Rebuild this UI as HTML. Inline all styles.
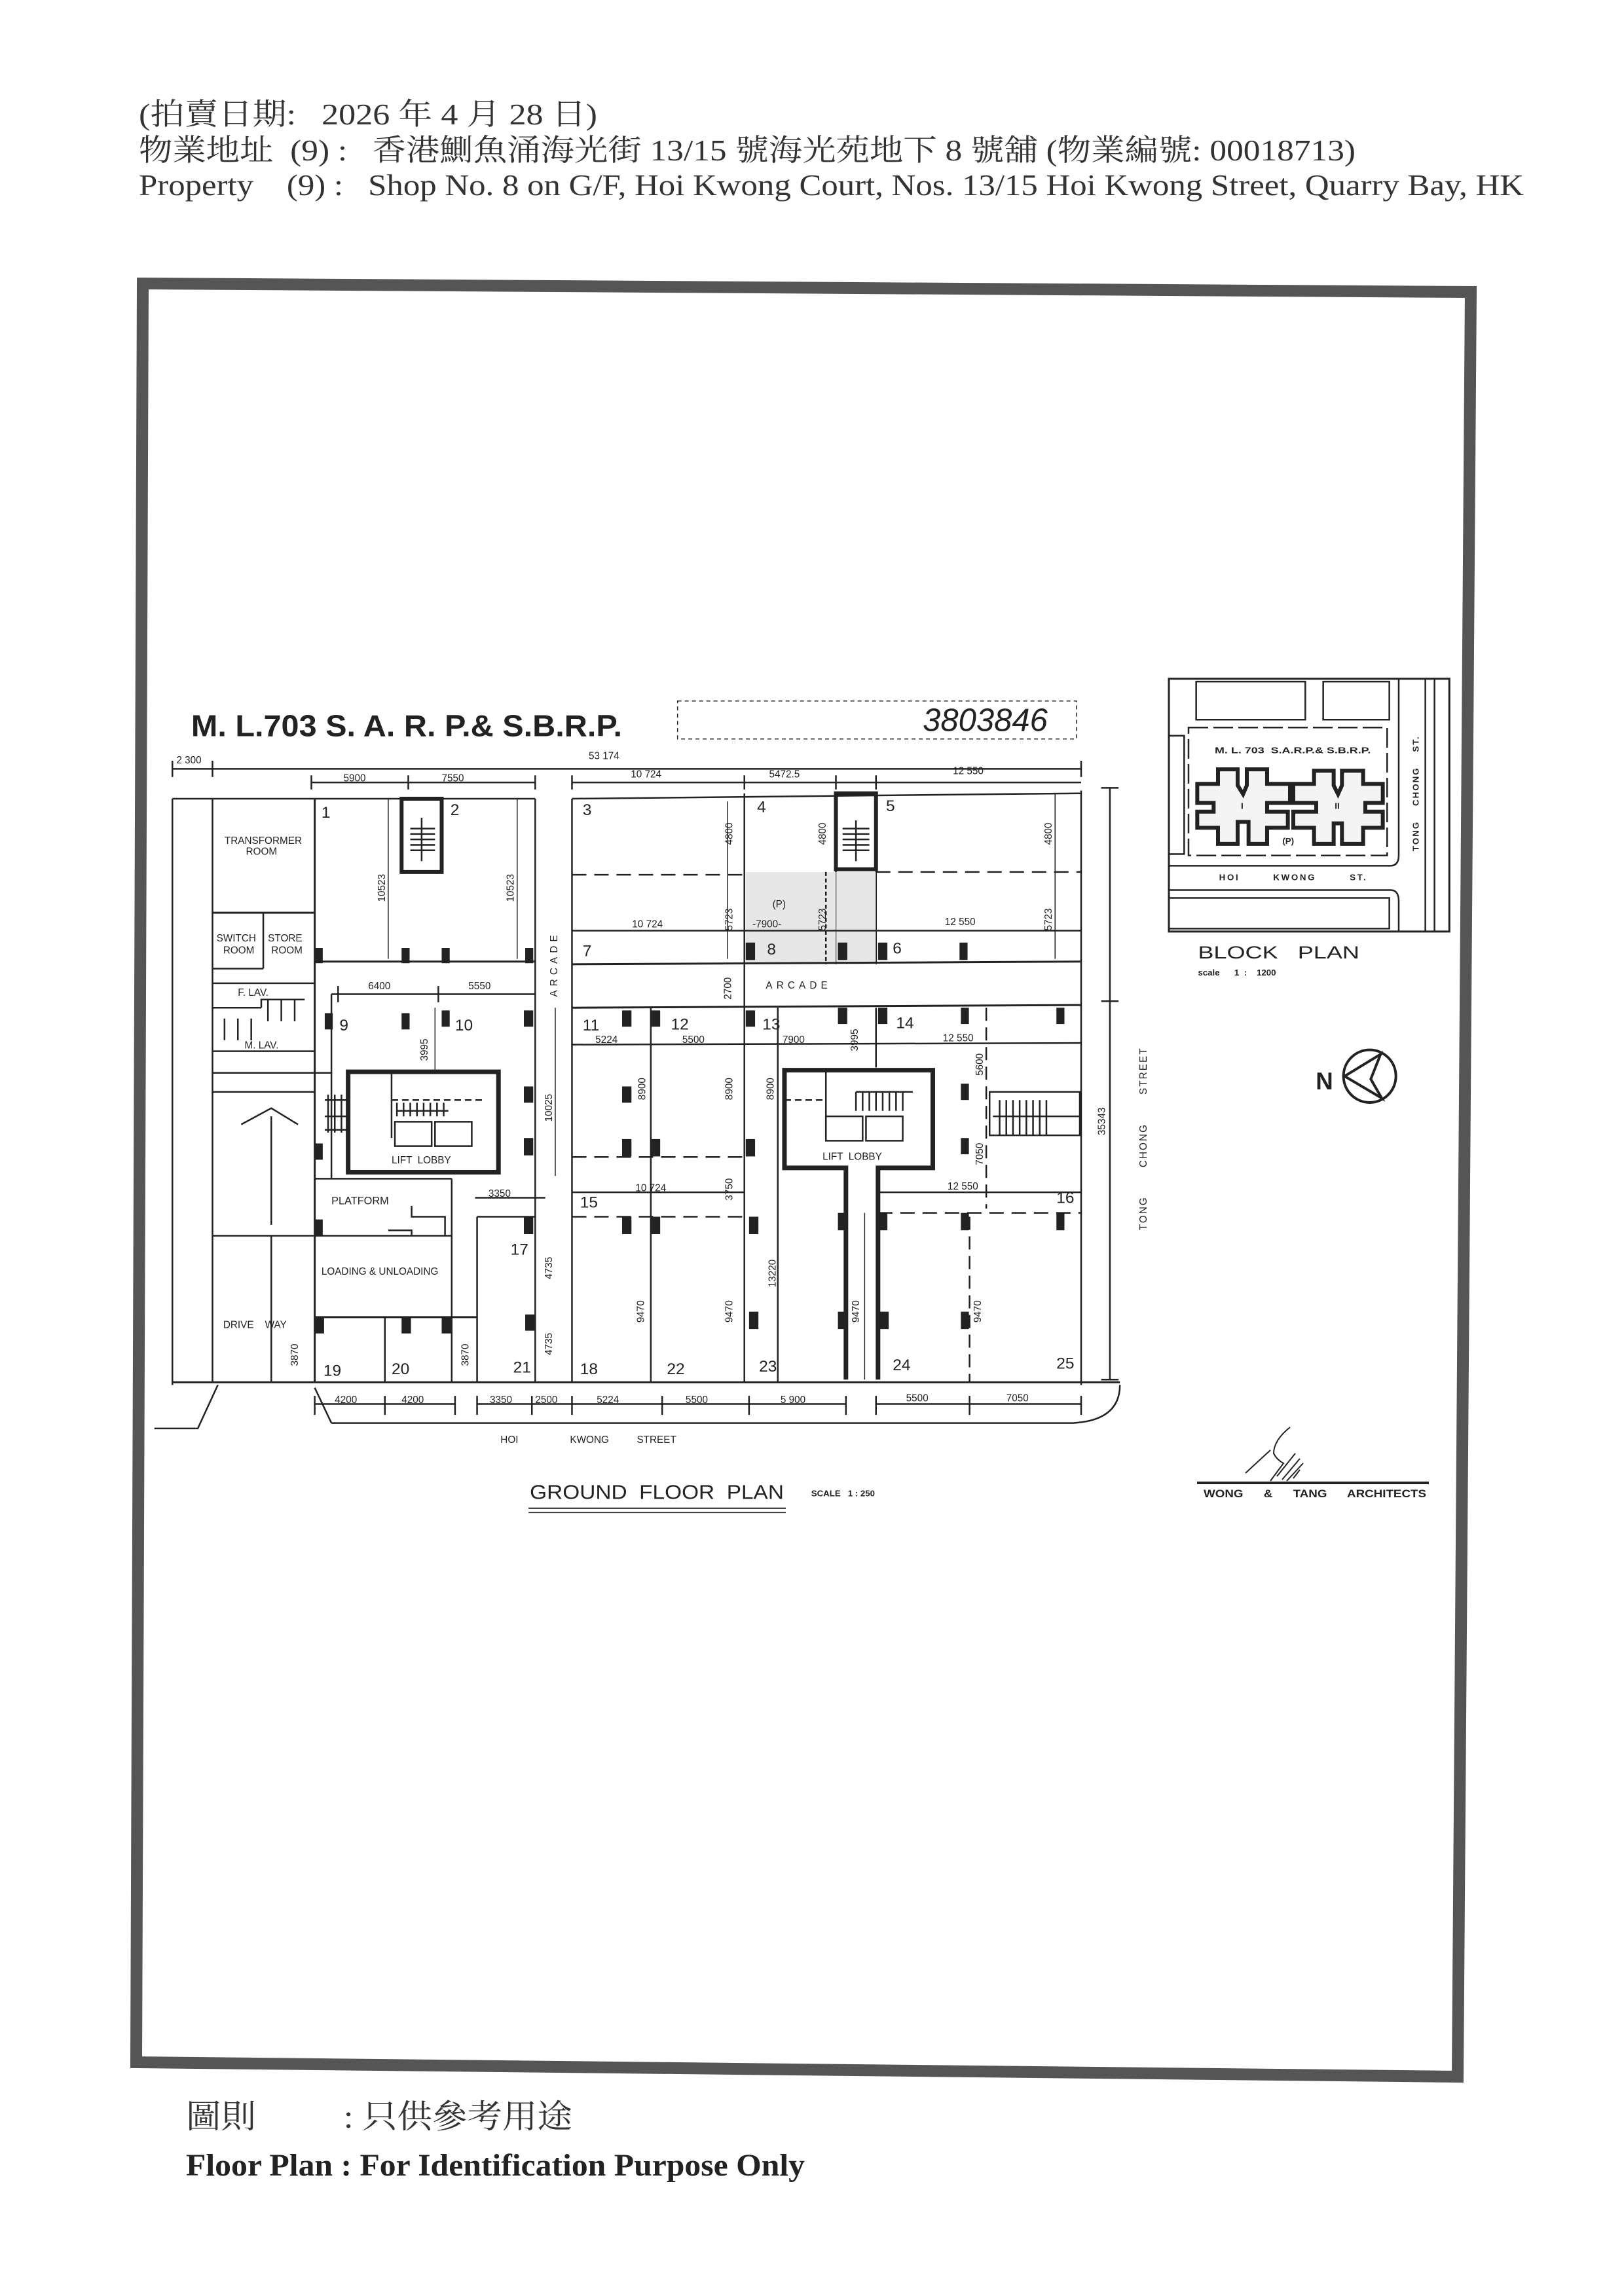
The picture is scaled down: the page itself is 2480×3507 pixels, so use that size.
<!DOCTYPE html>
<html><head><meta charset="utf-8">
<style>
html,body{margin:0;padding:0;background:#fff;}
svg{display:block}
text{font-family:"Liberation Sans",sans-serif;fill:#222;white-space:pre}
.s{font-family:"Liberation Serif","Noto Serif CJK SC","Noto Sans CJK TC",serif;fill:#333}
.p line,.p rect,.p polyline,.p path,.p ellipse{vector-effect:non-scaling-stroke}
</style></head>
<body>
<svg width="2480" height="3507" viewBox="0 0 2480 3507" xmlns="http://www.w3.org/2000/svg" xml:space="preserve">
<rect width="2480" height="3507" fill="#fff"/>

<!-- header -->
<text class="s" x="212" y="190" font-size="46" textLength="700" lengthAdjust="spacingAndGlyphs">(拍賣日期:   2026 年 4 月 28 日)</text>
<text class="s" x="212" y="245" font-size="46" textLength="1858" lengthAdjust="spacingAndGlyphs">物業地址  (9) :   香港鰂魚涌海光街 13/15 號海光苑地下 8 號舖 (物業編號: 00018713)</text>
<text class="s" x="212" y="298" font-size="46" textLength="2115" lengthAdjust="spacingAndGlyphs">Property    (9) :   Shop No. 8 on G/F, Hoi Kwong Court, Nos. 13/15 Hoi Kwong Street, Quarry Bay, HK</text>

<!-- frame -->
<polygon points="218,433 2246,446 2226,3172 208,3150" fill="none" stroke="#555" stroke-width="18"/>

<!-- footer -->
<text class="s" x="284" y="3250" font-size="50" textLength="590" lengthAdjust="spacingAndGlyphs">圖則          : 只供參考用途</text>
<text class="s" x="284" y="3323" font-size="48" font-weight="bold" textLength="945" lengthAdjust="spacingAndGlyphs" style="fill:#222">Floor Plan : For Identification Purpose Only</text>

<!-- plan -->
<g class="p" transform="matrix(1.0204 0 0 0.8292 200 1050)" stroke="#222" stroke-width="2.5" fill="none">
 <text transform="translate(90 90) scale(1 1.23)" font-size="45" font-weight="bold" stroke="none" textLength="645" lengthAdjust="spacingAndGlyphs">M. L.703 S. A. R. P.&amp; S.B.R.P.</text>
 <rect x="818" y="25" width="597" height="70" stroke-dasharray="6 5" stroke-width="1.5"/>
 <text transform="translate(1185 80) scale(1 1.23)" font-size="48" stroke="none" font-family="Liberation Serif" font-style="italic">3803846</text>
 <line x1="62" y1="150" x2="1422" y2="150"/>
 <line x1="62" y1="135" x2="62" y2="165"/><line x1="122" y1="135" x2="122" y2="165"/><line x1="1422" y1="135" x2="1422" y2="165"/>
 <line x1="270" y1="175" x2="605" y2="175"/><line x1="660" y1="175" x2="1422" y2="175"/>
 <g><line x1="270" y1="162" x2="270" y2="188"/><line x1="415" y1="162" x2="415" y2="188"/><line x1="605" y1="162" x2="605" y2="188"/><line x1="660" y1="162" x2="660" y2="188"/><line x1="918" y1="162" x2="918" y2="188"/><line x1="1055" y1="162" x2="1055" y2="188"/><line x1="1115" y1="162" x2="1115" y2="188"/></g>
 <g stroke="none" font-size="15">
  <text transform="translate(68 140) scale(1 1.23)">2 300</text>
  <text transform="translate(685 132) scale(1 1.23)">53 174</text>
  <text transform="translate(318 173) scale(1 1.23)">5900</text>
  <text transform="translate(465 173) scale(1 1.23)">7550</text>
  <text transform="translate(748 166) scale(1 1.23)">10 724</text>
  <text transform="translate(955 166) scale(1 1.23)">5472.5</text>
  <text transform="translate(1230 160) scale(1 1.23)">12 550</text>
 </g>
 <line x1="62" y1="205" x2="62" y2="1285"/>
 <line x1="62" y1="205" x2="605" y2="205"/>
 <line x1="660" y1="205" x2="1422" y2="195"/>
 <line x1="1422" y1="190" x2="1422" y2="1285"/>
 <line x1="1465" y1="185" x2="1465" y2="1275"/><line x1="1452" y1="185" x2="1478" y2="185"/><line x1="1452" y1="578" x2="1478" y2="578"/><line x1="1452" y1="1275" x2="1478" y2="1275"/>
 <line x1="62" y1="1280" x2="1480" y2="1280" stroke-width="3"/>
 <path d="M300 1355 L1410 1355 Q1480 1350 1480 1285"/>
 <path d="M35 1365 L100 1365 L130 1285"/>
 <line x1="275" y1="1290" x2="300" y2="1355"/>
 <line x1="122" y1="205" x2="122" y2="1280"/>
 <line x1="275" y1="205" x2="275" y2="1280" stroke-width="3"/>
 <line x1="122" y1="415" x2="275" y2="415" stroke-width="3"/>
 <line x1="198" y1="415" x2="198" y2="518"/>
 <line x1="122" y1="518" x2="198" y2="518"/>
 <line x1="122" y1="545" x2="275" y2="545"/>
 <line x1="122" y1="590" x2="195" y2="590"/>
 <line x1="122" y1="670" x2="275" y2="670"/>
 <line x1="122" y1="710" x2="300" y2="710"/>
 <line x1="122" y1="745" x2="275" y2="745"/>
 <path d="M195 590 L195 575 L260 575 M205 575 V615 M225 575 V615 M245 575 V615 M140 610 V650 M160 610 V650 M180 610 V650"/>
 <line x1="122" y1="1010" x2="480" y2="1010"/>
 <line x1="210" y1="1010" x2="210" y2="1280"/>
 <line x1="210" y1="790" x2="210" y2="990"/>
 <path d="M165 805 L210 775 L250 805"/>
 <line x1="480" y1="905" x2="480" y2="1280"/>
 <line x1="275" y1="905" x2="480" y2="905"/>
 <line x1="275" y1="1160" x2="518" y2="1160" stroke-width="3"/>
 <line x1="380" y1="1160" x2="380" y2="1280"/>
 <line x1="518" y1="975" x2="518" y2="1280"/>
 <line x1="518" y1="975" x2="605" y2="975"/>
 <path d="M420 955 V975 H470 V1010 M385 1000 H420 V1010"/>
 <line x1="275" y1="505" x2="605" y2="505" stroke-width="3"/>
 <line x1="605" y1="205" x2="605" y2="1280"/>
 <line x1="660" y1="205" x2="660" y2="1280"/>
 <rect x="405" y="205" width="60" height="135" stroke-width="6"/>
 <path d="M418 260 H455 M418 270 H455 M418 280 H455 M418 290 H455 M418 300 H455 M435 240 V320"/>
 <line x1="385" y1="205" x2="385" y2="500" stroke-width="1.5"/><line x1="578" y1="205" x2="578" y2="500" stroke-width="1.5"/>
 <line x1="300" y1="565" x2="605" y2="565"/>
 <line x1="300" y1="565" x2="300" y2="905"/>
 <line x1="310" y1="550" x2="310" y2="580"/><line x1="460" y1="550" x2="460" y2="580"/>
 <line x1="455" y1="590" x2="455" y2="705" stroke-width="1.5"/>
 <rect x="325" y="708" width="225" height="185" stroke-width="7"/>
 <line x1="390" y1="708" x2="390" y2="830"/><line x1="390" y1="760" x2="530" y2="760" stroke-dasharray="10 6"/>
 <rect x="395" y="800" width="55" height="45"/><rect x="455" y="800" width="55" height="45"/>
 <path d="M398 765 V790 M408 765 V790 M418 765 V790 M428 765 V790 M438 765 V790 M448 765 V790 M458 765 V790 M468 765 V790 M398 780 H475"/>
 <line x1="635" y1="590" x2="635" y2="900" stroke-width="1.5"/>
 <line x1="515" y1="940" x2="620" y2="940"/>
 <path d="M295 750 V820 M305 750 V820 M315 750 V820 M290 760 H325 M290 790 H325 M290 815 H325"/>
 <line x1="918" y1="195" x2="918" y2="1280"/>
 <line x1="1055" y1="195" x2="1055" y2="510"/>
 <rect x="1055" y="195" width="60" height="140" stroke-width="6"/>
 <path d="M1065 260 H1105 M1065 270 H1105 M1065 280 H1105 M1065 290 H1105 M1065 300 H1105 M1085 245 V320"/>
 <line x1="1115" y1="195" x2="1115" y2="510"/>
 <line x1="660" y1="345" x2="918" y2="345" stroke-dasharray="22 12"/>
 <line x1="1115" y1="340" x2="1422" y2="340" stroke-dasharray="22 12"/>
 <rect x="920" y="340" width="195" height="170" fill="#ddd" stroke="none" opacity="0.7"/>
 <line x1="1040" y1="340" x2="1040" y2="510" stroke-dasharray="6 4"/>
 <line x1="660" y1="448" x2="1422" y2="448"/>
 <line x1="660" y1="510" x2="1422" y2="505" stroke-width="3"/>
 <line x1="660" y1="590" x2="1422" y2="585" stroke-width="3"/>
 <line x1="893" y1="210" x2="893" y2="500" stroke-width="1.5"/><line x1="1383" y1="195" x2="1383" y2="500" stroke-width="1.5"/>
 <line x1="660" y1="658" x2="1422" y2="655"/>
 <line x1="778" y1="590" x2="778" y2="1280"/>
 <line x1="968" y1="590" x2="968" y2="1280"/>
 <line x1="1115" y1="590" x2="1115" y2="700"/>
 <line x1="1280" y1="590" x2="1280" y2="960" stroke-dasharray="20 10"/>
 <line x1="660" y1="865" x2="918" y2="865" stroke-dasharray="22 12"/>
 <path d="M1070 1275 V885 H978 V705 H1200 V885 H1118 V1275" stroke-width="7"/>
 <line x1="978" y1="760" x2="1040" y2="760" stroke-dasharray="10 6"/>
 <line x1="1040" y1="705" x2="1040" y2="830"/>
 <rect x="1040" y="790" width="55" height="45"/><rect x="1100" y="790" width="55" height="45"/>
 <path d="M1085 745 V780 M1095 745 V780 M1105 745 V780 M1115 745 V780 M1125 745 V780 M1135 745 V780 M1145 745 V780 M1155 745 V780 M1085 745 H1170"/>
 <line x1="660" y1="930" x2="918" y2="930"/>
 <line x1="1118" y1="930" x2="1422" y2="930"/>
 <line x1="660" y1="975" x2="918" y2="975" stroke-dasharray="22 12"/>
 <line x1="1118" y1="968" x2="1422" y2="968" stroke-dasharray="22 12"/>
 <line x1="1255" y1="975" x2="1255" y2="1280" stroke-dasharray="20 10"/>
 <line x1="1098" y1="968" x2="1098" y2="1275" stroke-width="1.5"/>
 <rect x="1285" y="745" width="135" height="80"/>
 <path d="M1290 790 H1420 M1300 760 V825 M1310 760 V825 M1320 760 V825 M1330 760 V825 M1340 760 V825 M1350 760 V825 M1360 760 V825 M1370 760 V825"/>
 <line x1="275" y1="1320" x2="485" y2="1320"/><line x1="518" y1="1320" x2="1070" y2="1320"/><line x1="1115" y1="1320" x2="1422" y2="1320"/>
 <g><line x1="275" y1="1305" x2="275" y2="1340"/><line x1="380" y1="1305" x2="380" y2="1340"/><line x1="485" y1="1305" x2="485" y2="1340"/><line x1="518" y1="1305" x2="518" y2="1340"/><line x1="600" y1="1305" x2="600" y2="1340"/><line x1="660" y1="1305" x2="660" y2="1340"/><line x1="795" y1="1305" x2="795" y2="1340"/><line x1="925" y1="1305" x2="925" y2="1340"/><line x1="1070" y1="1305" x2="1070" y2="1340"/><line x1="1115" y1="1305" x2="1115" y2="1340"/><line x1="1255" y1="1305" x2="1255" y2="1340"/><line x1="1422" y1="1305" x2="1422" y2="1340"/></g>
 <g fill="#222" stroke="none">
  <rect x="275" y="480" width="12" height="28"/><rect x="405" y="480" width="12" height="28"/><rect x="465" y="480" width="12" height="28"/><rect x="590" y="480" width="12" height="28"/>
  <rect x="920" y="470" width="14" height="32"/><rect x="1058" y="470" width="14" height="32"/><rect x="1118" y="470" width="14" height="32"/><rect x="1240" y="470" width="12" height="32"/>
  <rect x="290" y="600" width="12" height="30"/><rect x="405" y="600" width="12" height="30"/><rect x="465" y="595" width="12" height="30"/><rect x="588" y="595" width="14" height="30"/>
  <rect x="735" y="595" width="14" height="30"/><rect x="778" y="595" width="14" height="30"/><rect x="920" y="595" width="14" height="30"/><rect x="1058" y="590" width="14" height="30"/><rect x="1118" y="590" width="14" height="30"/><rect x="1242" y="590" width="12" height="30"/><rect x="1385" y="590" width="12" height="30"/>
  <rect x="588" y="735" width="14" height="30"/><rect x="735" y="735" width="14" height="30"/><rect x="1242" y="730" width="12" height="30"/>
  <rect x="588" y="830" width="14" height="32"/><rect x="735" y="832" width="14" height="32"/><rect x="778" y="832" width="14" height="32"/><rect x="920" y="832" width="14" height="32"/><rect x="1242" y="830" width="12" height="30"/>
  <rect x="588" y="975" width="14" height="32"/><rect x="735" y="975" width="14" height="32"/><rect x="778" y="975" width="14" height="32"/><rect x="925" y="975" width="14" height="32"/><rect x="1058" y="968" width="14" height="32"/><rect x="1118" y="968" width="14" height="32"/><rect x="1242" y="968" width="12" height="32"/><rect x="1385" y="968" width="12" height="32"/>
  <rect x="275" y="1160" width="14" height="30"/><rect x="405" y="1160" width="14" height="30"/><rect x="465" y="1160" width="14" height="30"/><rect x="590" y="1155" width="14" height="30"/><rect x="925" y="1150" width="14" height="32"/><rect x="1058" y="1150" width="14" height="32"/><rect x="1120" y="1150" width="14" height="32"/><rect x="1242" y="1150" width="12" height="32"/>
  <rect x="275" y="840" width="12" height="30"/><rect x="275" y="980" width="12" height="30"/>
 </g>
 <g stroke="none" font-size="15">
  <text transform="translate(140 288) scale(1 1.23)">TRANSFORMER</text>
  <text transform="translate(172 308) scale(1 1.23)">ROOM</text>
  <text transform="translate(128 468) scale(1 1.23)">SWITCH</text>
  <text transform="translate(138 490) scale(1 1.23)">ROOM</text>
  <text transform="translate(205 468) scale(1 1.23)">STORE</text>
  <text transform="translate(210 490) scale(1 1.23)">ROOM</text>
  <text transform="translate(160 568) scale(1 1.23)">F. LAV.</text>
  <text transform="translate(170 665) scale(1 1.23)">M. LAV.</text>
  <text transform="translate(300 952) scale(1 1.23)" font-size="16">PLATFORM</text>
  <text transform="translate(285 1082) scale(1 1.23)">LOADING &amp; UNLOADING</text>
  <text transform="translate(138 1180) scale(1 1.23)">DRIVE    WAY</text>
  <text transform="translate(390 877) scale(1 1.23)">LIFT  LOBBY</text>
  <text transform="translate(1035 870) scale(1 1.23)">LIFT  LOBBY</text>
  <text transform="translate(950 555) scale(1 1.23)" letter-spacing="6">ARCADE</text>
  <text transform="translate(638 570) scale(1 1.23) rotate(-90)" letter-spacing="6">ARCADE</text>
  <text transform="translate(960 405) scale(1 1.23)">(P)</text>
  <text transform="translate(930 442) scale(1 1.23)">-7900-</text>
  <text transform="translate(750 442) scale(1 1.23)">10 724</text>
  <text transform="translate(1218 438) scale(1 1.23)">12 550</text>
  <text transform="translate(355 556) scale(1 1.23)">6400</text>
  <text transform="translate(505 556) scale(1 1.23)">5550</text>
  <text transform="translate(695 655) scale(1 1.23)">5224</text>
  <text transform="translate(825 655) scale(1 1.23)">5500</text>
  <text transform="translate(975 655) scale(1 1.23)">7900</text>
  <text transform="translate(1215 652) scale(1 1.23)">12 550</text>
  <text transform="translate(755 928) scale(1 1.23)">10 724</text>
  <text transform="translate(1222 925) scale(1 1.23)">12 550</text>
  <text transform="translate(535 938) scale(1 1.23)">3350</text>
  <text transform="translate(305 1318) scale(1 1.23)">4200</text>
  <text transform="translate(405 1318) scale(1 1.23)">4200</text>
  <text transform="translate(537 1318) scale(1 1.23)">3350</text>
  <text transform="translate(605 1318) scale(1 1.23)">2500</text>
  <text transform="translate(697 1318) scale(1 1.23)">5224</text>
  <text transform="translate(830 1318) scale(1 1.23)">5500</text>
  <text transform="translate(972 1318) scale(1 1.23)">5 900</text>
  <text transform="translate(1160 1315) scale(1 1.23)">5500</text>
  <text transform="translate(1310 1315) scale(1 1.23)">7050</text>
  <text transform="translate(553 1392) scale(1 1.23)">HOI</text>
  <text transform="translate(657 1392) scale(1 1.23)">KWONG</text>
  <text transform="translate(757 1392) scale(1 1.23)">STREET</text>
  <text transform="translate(1520 1000) scale(1 1.23) rotate(-90)" letter-spacing="2">TONG       CHONG       STREET</text>
  <text transform="translate(380 395) scale(1 1.23) rotate(-90)">10523</text>
  <text transform="translate(573 395) scale(1 1.23) rotate(-90)">10523</text>
  <text transform="translate(630 800) scale(1 1.23) rotate(-90)">10025</text>
  <text transform="translate(444 688) scale(1 1.23) rotate(-90)">3995</text>
  <text transform="translate(1088 670) scale(1 1.23) rotate(-90)">3995</text>
  <text transform="translate(900 290) scale(1 1.23) rotate(-90)">4800</text>
  <text transform="translate(1040 290) scale(1 1.23) rotate(-90)">4800</text>
  <text transform="translate(1378 290) scale(1 1.23) rotate(-90)">4800</text>
  <text transform="translate(900 448) scale(1 1.23) rotate(-90)">5723</text>
  <text transform="translate(1040 448) scale(1 1.23) rotate(-90)">5723</text>
  <text transform="translate(1378 448) scale(1 1.23) rotate(-90)">5723</text>
  <text transform="translate(898 575) scale(1 1.23) rotate(-90)">2700</text>
  <text transform="translate(770 760) scale(1 1.23) rotate(-90)">8900</text>
  <text transform="translate(900 760) scale(1 1.23) rotate(-90)">8900</text>
  <text transform="translate(962 760) scale(1 1.23) rotate(-90)">8900</text>
  <text transform="translate(1275 715) scale(1 1.23) rotate(-90)">5600</text>
  <text transform="translate(1275 880) scale(1 1.23) rotate(-90)">7050</text>
  <text transform="translate(1458 825) scale(1 1.23) rotate(-90)">35343</text>
  <text transform="translate(900 945) scale(1 1.23) rotate(-90)">3750</text>
  <text transform="translate(965 1105) scale(1 1.23) rotate(-90)">13220</text>
  <text transform="translate(630 1090) scale(1 1.23) rotate(-90)">4735</text>
  <text transform="translate(630 1230) scale(1 1.23) rotate(-90)">4735</text>
  <text transform="translate(768 1170) scale(1 1.23) rotate(-90)">9470</text>
  <text transform="translate(900 1170) scale(1 1.23) rotate(-90)">9470</text>
  <text transform="translate(1090 1170) scale(1 1.23) rotate(-90)">9470</text>
  <text transform="translate(1272 1170) scale(1 1.23) rotate(-90)">9470</text>
  <text transform="translate(250 1250) scale(1 1.23) rotate(-90)">3870</text>
  <text transform="translate(505 1250) scale(1 1.23) rotate(-90)">3870</text>
 </g>
 <g stroke="none" font-size="24">
  <text transform="translate(285 240) scale(1 1.23)">1</text>
  <text transform="translate(478 235) scale(1 1.23)">2</text>
  <text transform="translate(676 235) scale(1 1.23)">3</text>
  <text transform="translate(937 230) scale(1 1.23)">4</text>
  <text transform="translate(1130 228) scale(1 1.23)">5</text>
  <text transform="translate(1140 490) scale(1 1.23)">6</text>
  <text transform="translate(676 495) scale(1 1.23)">7</text>
  <text transform="translate(952 492) scale(1 1.23)">8</text>
  <text transform="translate(312 632) scale(1 1.23)">9</text>
  <text transform="translate(485 632) scale(1 1.23)">10</text>
  <text transform="translate(676 632) scale(1 1.23)">11</text>
  <text transform="translate(808 630) scale(1 1.23)">12</text>
  <text transform="translate(945 630) scale(1 1.23)">13</text>
  <text transform="translate(1145 628) scale(1 1.23)">14</text>
  <text transform="translate(672 958) scale(1 1.23)">15</text>
  <text transform="translate(1385 950) scale(1 1.23)">16</text>
  <text transform="translate(568 1045) scale(1 1.23)">17</text>
  <text transform="translate(672 1265) scale(1 1.23)">18</text>
  <text transform="translate(288 1268) scale(1 1.23)">19</text>
  <text transform="translate(390 1265) scale(1 1.23)">20</text>
  <text transform="translate(572 1262) scale(1 1.23)">21</text>
  <text transform="translate(802 1265) scale(1 1.23)">22</text>
  <text transform="translate(940 1260) scale(1 1.23)">23</text>
  <text transform="translate(1140 1258) scale(1 1.23)">24</text>
  <text transform="translate(1385 1255) scale(1 1.23)">25</text>
 </g>
 <text transform="translate(597 1495) scale(1 1.23)" font-size="30" stroke="none" textLength="380" lengthAdjust="spacingAndGlyphs">GROUND  FLOOR  PLAN</text>
 <line x1="595" y1="1512" x2="980" y2="1512" stroke-width="2"/>
 <line x1="595" y1="1520" x2="980" y2="1520" stroke-width="1.5"/>
 <text transform="translate(1018 1490) scale(1 1.23)" font-size="13" font-weight="bold" stroke="none">SCALE   1 : 250</text>
</g>

<!-- block plan -->
<g class="p" transform="matrix(0.3333 0 0 0.4464 1780 1030)" stroke="#222" stroke-width="2.5" fill="none">
 <rect x="15" y="15" width="1285" height="865" stroke-width="3"/>
 <rect x="140" y="25" width="500" height="130"/>
 <rect x="722" y="25" width="303" height="130"/>
 <rect x="15" y="210" width="70" height="405"/>
 <rect x="105" y="182" width="910" height="438" stroke-dasharray="30 8"/>
 <path d="M15 655 H1030 Q1068 655 1068 620 V15"/>
 <path d="M15 738 H1030 Q1068 738 1068 775 V880"/>
 <rect x="15" y="765" width="1010" height="105"/>
 <line x1="1190" y1="15" x2="1190" y2="880"/>
 <line x1="1232" y1="15" x2="1232" y2="880"/>
 <path d="M145 375 H240 V325 H330 V380 L355 410 L372 380 V325 H465 V375 H570 V440 H465 V470 H560 V525 H465 V580 H380 V505 H330 V580 H240 V525 H145 V470 H220 V440 H145 Z" stroke-width="6" fill="#f4f4f4"/>
 <path d="M585 375 H680 V330 H770 V380 L790 410 L808 380 V330 H905 V375 H995 V440 H915 V470 H995 V525 H905 V580 H808 V510 H770 V580 H680 V525 H585 V470 H690 V440 H585 Z" stroke-width="6" fill="#f4f4f4"/>
 <g stroke="none" font-weight="bold">
  <text transform="translate(225 270) scale(1 0.747)" font-size="40" textLength="715" lengthAdjust="spacingAndGlyphs">M. L. 703  S.A.R.P.&amp; S.B.R.P.</text>
  <text transform="translate(345 460) scale(1 0.747)" font-size="40">I</text>
  <text transform="translate(775 460) scale(1 0.747)" font-size="40">II</text>
  <text transform="translate(535 580) scale(1 0.747)" font-size="40">(P)</text>
  <text transform="translate(245 705) scale(1 0.747)" font-size="40" letter-spacing="8">HOI        KWONG        ST.</text>
  <text transform="translate(1160 605) scale(1 0.747) rotate(-90)" font-size="40" letter-spacing="6">TONG    CHONG    ST.</text>
  <text transform="translate(148 972) scale(1 0.747)" font-size="80" textLength="740" lengthAdjust="spacingAndGlyphs" font-weight="normal">BLOCK   PLAN</text>
  <text transform="translate(148 1030) scale(1 0.747)" font-size="40">scale      1  :    1200</text>
  <text transform="translate(688 1420) scale(1 0.747)" font-size="110">N</text>
 </g>
 <ellipse cx="935" cy="1375" rx="120" ry="90" stroke-width="4"/>
 <path d="M820 1375 L985 1300 L940 1385 L990 1450 Z" stroke-width="4"/>
</g>

<!-- signature -->
<g stroke="#222" fill="none" stroke-width="2">
 <line x1="1828" y1="2265" x2="2182" y2="2265" stroke-width="4"/>
 <path d="M1902 2250 L1940 2215 M1970 2180 Q1945 2200 1945 2220 Q1950 2230 1960 2235 L1940 2262 M1950 2255 L1978 2220 M1958 2260 L1985 2228 M1965 2262 L1990 2235 M1975 2258 L1985 2245"/>
</g>
<text x="1838" y="2287" font-size="17" font-weight="bold" textLength="340" lengthAdjust="spacingAndGlyphs">WONG      &amp;      TANG      ARCHITECTS</text>
</svg>
</body></html>
